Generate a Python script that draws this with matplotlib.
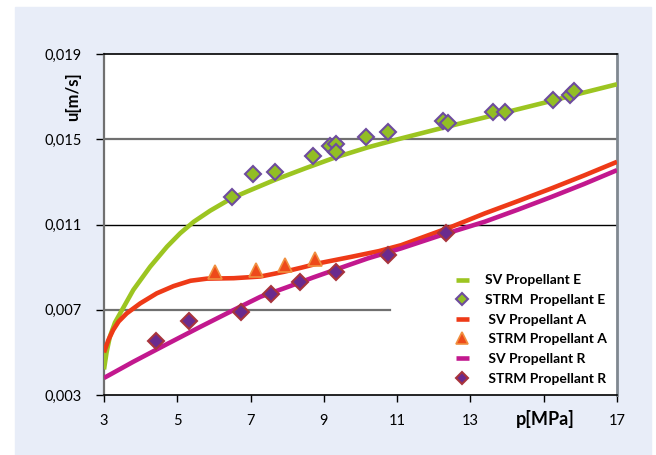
import matplotlib
matplotlib.use("Agg")
import matplotlib.pyplot as plt
from matplotlib.ticker import FixedLocator

plt.rcParams['font.family'] = ['Lato', 'DejaVu Sans']

# SV curves
sv_e_p = [3.0, 3.07, 3.16, 3.3, 3.44, 3.8, 4.26, 4.72, 5.08, 5.45, 5.9, 6.48, 6.91, 7.67, 8.5, 9.3, 10.2, 11.02, 12.0, 12.74, 14.0, 15.03, 16.0, 17.0]
sv_e_u = [0.0042, 0.0050, 0.00574, 0.0064, 0.00683, 0.00793, 0.00902, 0.00996, 0.01059, 0.01113, 0.01165, 0.01223, 0.01255, 0.0131, 0.01364, 0.01414, 0.01462, 0.01500, 0.01543, 0.01575, 0.01628, 0.01672, 0.01715, 0.01758]

sv_a_p = [3.0, 3.12, 3.25, 3.4, 3.62, 3.99, 4.44, 4.9, 5.36, 5.81, 6.54, 7.27, 7.91, 8.4, 8.83, 9.74, 10.5, 11.11, 12.48, 13.39, 14.3, 15.22, 16.1, 17.0]
sv_a_u = [0.0050, 0.00558, 0.00605, 0.00645, 0.00683, 0.0073, 0.00777, 0.00811, 0.00836, 0.00846, 0.00848, 0.00856, 0.00878, 0.00898, 0.00917, 0.00948, 0.00975, 0.01003, 0.01089, 0.01152, 0.0121, 0.0127, 0.0133, 0.01394]

sv_r_p = [3.0, 3.8, 4.72, 5.63, 6.54, 7.27, 8.0, 8.7, 9.28, 10.2, 11.11, 12.2, 13.39, 14.3, 15.22, 16.1, 17.0]
sv_r_u = [0.0038, 0.00456, 0.00539, 0.0062, 0.00699, 0.00761, 0.00806, 0.00851, 0.00886, 0.00941, 0.00988, 0.0105, 0.01113, 0.0117, 0.0123, 0.0129, 0.01355]

# STRM measurements
strm_e_p = [6.48, 7.06, 7.67, 8.71, 9.18, 9.34, 9.32, 10.15, 10.75, 12.26, 12.38, 13.61, 13.95, 15.25, 15.73, 15.84]
strm_e_u = [0.01231, 0.01338, 0.01345, 0.01420, 0.01466, 0.01477, 0.01439, 0.01509, 0.01533, 0.01586, 0.01575, 0.01627, 0.01627, 0.01683, 0.01709, 0.01727]

strm_a_p = [6.03, 7.16, 7.93, 8.76]
strm_a_u = [0.00876, 0.00888, 0.00910, 0.00937]

strm_r_p = [4.41, 5.32, 6.73, 7.57, 8.35, 9.33, 10.75, 12.33]
strm_r_u = [0.00552, 0.00648, 0.00689, 0.00773, 0.00830, 0.00877, 0.00956, 0.01059]

xticks = [3, 5, 7, 9, 11, 13, 15, 17]
xticklabels = ['3', '5', '7', '9', '11', '13', '', '17']
yticks = [0.003, 0.007, 0.011, 0.015, 0.019]
yticklabels = ['0,003', '0,007', '0,011', '0,015', '0,019']

green = '#9CC521'
red = '#EE3A17'
magenta = '#C2188E'
bg = '#E8EDF8'

fig = plt.figure(figsize=(6.56, 4.55), dpi=100)
fig.patches.append(plt.Rectangle((15 / 656, 0), 636 / 656, 448 / 455,
                                 transform=fig.transFigure, color=bg, zorder=-10))
ax = fig.add_axes([104 / 656, 1 - 395 / 455, 513 / 656, 341 / 455])
ax.set_facecolor('white')

ax.set_xlim(3, 17)
ax.set_ylim(0.003, 0.019)

# horizontal grid lines like the original
ax.axhline(0.015, color='#707070', lw=1.6, zorder=1)
ax.axhline(0.011, color='black', lw=1.0, zorder=1)
ax.plot([3, 10.8], [0.007, 0.007], color='#707070', lw=1.6, zorder=1)

line_kw = dict(lw=3.3, solid_joinstyle='round', solid_capstyle='butt', zorder=3)
ax.plot(sv_e_p, sv_e_u, color=green, label='SV Propellant E', **line_kw)
ax.plot(strm_e_p, strm_e_u, ls='none', marker='D', ms=8, mfc='#92BE24', mec='#6E4C9E',
        mew=1.5, label='STRM  Propellant E', zorder=5)
ax.plot(sv_a_p, sv_a_u, color=red, label=' SV Propellant A', **line_kw)
ax.plot(strm_a_p, strm_a_u, ls='none', marker='^', ms=10, mfc='#EE4A1A', mec='#F09040',
        mew=1.2, label=' STRM Propellant A', zorder=5)
ax.plot(sv_r_p, sv_r_u, color=magenta, label=' SV Propellant R', **line_kw)
ax.plot(strm_r_p, strm_r_u, ls='none', marker='D', ms=8, mfc='#6A2A8E', mec='#A8343C',
        mew=1.5, label=' STRM Propellant R', zorder=5)

ax.xaxis.set_major_locator(FixedLocator(xticks))
ax.set_xticklabels(xticklabels)
ax.yaxis.set_major_locator(FixedLocator(yticks))
ax.set_yticklabels(yticklabels)
ax.tick_params(axis='both', labelsize=10.5, direction='out', length=5, width=1)
ax.tick_params(axis='x', pad=9)
ax.tick_params(axis='y', pad=10, length=6)

for side in ['top', 'bottom']:
    ax.spines[side].set_color('black')
    ax.spines[side].set_linewidth(1.2)
ax.spines['left'].set_color('#707070')
ax.spines['left'].set_linewidth(1.6)
ax.spines['right'].set_color('#808890')
ax.spines['right'].set_linewidth(2)

fig.text(73 / 656, 1 - 97 / 455, 'u[m/s]', rotation=90, ha='center', va='center',
         fontsize=12, fontweight='bold')
fig.text(545 / 656, 1 - 419 / 455, 'p[MPa]', ha='center', va='center',
         fontsize=13, fontweight='bold')

leg = ax.legend(loc='lower right', bbox_to_anchor=(1.0, 0.0), frameon=False,
                fontsize=10, handlelength=1.0, handletextpad=1.1, labelspacing=0.55,
                borderaxespad=0.35, markerscale=0.8)
for t in leg.get_texts():
    t.set_fontweight('bold')

fig.savefig('out.png', dpi=100)
